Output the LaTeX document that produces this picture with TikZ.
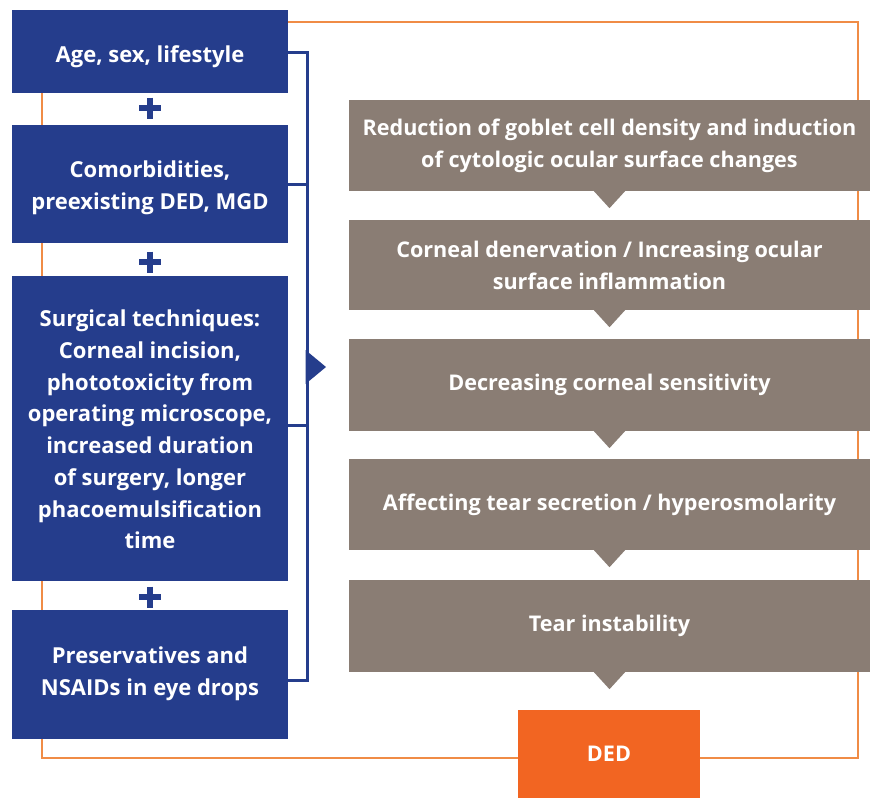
\documentclass[tikz,border=0pt]{standalone}
\usepackage{fontspec}
\setmainfont{Open Sans}[UprightFont=* Bold]
\definecolor{dblue}{RGB}{37,61,140}
\definecolor{dgray}{RGB}{138,125,116}
\definecolor{dorange}{RGB}{242,101,34}
\definecolor{lorange}{RGB}{240,140,70}
\tikzset{
  bbox/.style={fill=dblue, inner sep=0pt, minimum width=276pt},
  btext/.style={text=white, align=center, inner sep=0pt, font=\fontsize{22}{31.7}\selectfont},
  gbox/.style={fill=dgray, text=white, align=center, inner sep=0pt, minimum width=521pt, font=\fontsize{21.6}{32}\selectfont},
  obox/.style={fill=dorange, text=white, align=center, inner sep=0pt, font=\fontsize{21.6}{32}\selectfont},
  bline/.style={draw=dblue, line width=3pt},
  plusmark/.style={draw=dblue, line width=6.5pt},
}
\begin{document}
\begin{tikzpicture}[x=1pt,y=-1pt]
\useasboundingbox (0,0) rectangle (872,798);
% orange frame
\draw[lorange, line width=1.5pt] (42,22) rectangle (858,758);
% blue boxes
\node[bbox, minimum height=83pt] (b1) at (150,51.5) {};
\node[btext] (b1t) at ([yshift=-5pt]b1.center) {Age, sex, lifestyle};
\node[bbox, minimum height=118pt] (b2) at (150,184) {};
\node[btext] (b2t) at ([yshift=-3.5pt]b2.center) {Comorbidities,\\preexisting DED, MGD};
\node[bbox, minimum height=305pt] (b3) at (150,428.5) {};
\node[btext] (b3t) at ([yshift=-1pt]b3.center) {Surgical techniques:\\Corneal incision,\\phototoxicity from\\operating microscope,\\increased duration\\of surgery, longer\\phacoemulsification\\time};
\node[bbox, minimum height=129pt] (b4) at (150,674.5) {};
\node[btext] (b4t) at ([yshift=0.5pt]b4.center) {Preservatives and\\NSAIDs in eye drops};
% plus signs
\foreach \n/\yy in {p1/108, p2/262, p3/597} {
  \coordinate (\n) at (150,\yy);
  \draw[plusmark] (\n) ++(-11,0) -- ++(22,0);
  \draw[plusmark] (\n) ++(0,-10.5) -- ++(0,21);
}
% bracket
\coordinate (t1) at (307,52);
\coordinate (t4) at (307,680);
\draw[bline] (b1.east |- t1) -- (t1) -- (t4) -- (b4.east |- t4);
\draw[bline] (b2.east) -- (b2.east -| t1);
\draw[bline] (b3.east |- 0,425) -- (307,425);
\fill[dblue] (305.5,350) -- (326,367) -- (305.5,384) -- cycle;
% gray boxes
\node[gbox, minimum height=91pt] (g1) at (609.5,145.5) {Reduction of goblet cell density and induction\\of cytologic ocular surface changes};
\node[gbox, minimum height=90pt] (g2) at (609.5,265) {Corneal denervation / Increasing ocular\\surface inflammation};
\node[gbox, minimum height=92pt] (g3) at (609.5,385) {Decreasing corneal sensitivity};
\node[gbox, minimum height=91pt] (g4) at (609.5,504.5) {Affecting tear secretion / hyperosmolarity};
\node[gbox, minimum height=92pt] (g5) at (609.5,626) {Tear instability};
\foreach \g in {g1,g2,g3,g4,g5} {
  \fill[dgray] (\g.south) ++(-16,-0.5) -- ++(16,17.5) -- ++(16,-17.5) -- cycle;
}
% DED
\node[obox, minimum width=182pt, minimum height=88pt] (ded) at (609,754) {DED};
\end{tikzpicture}
\end{document}
